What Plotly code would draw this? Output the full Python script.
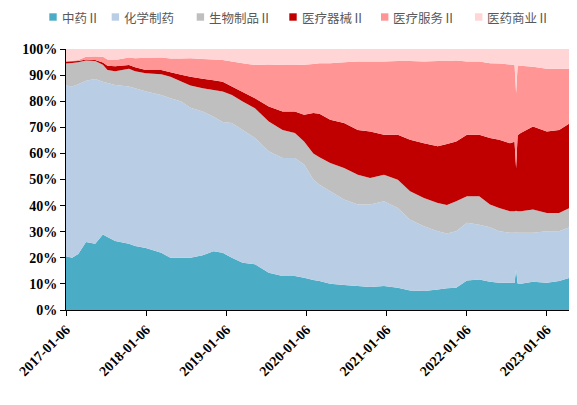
import plotly.graph_objects as go

dates = [
    "2017-01-06", "2017-02-03", "2017-03-03", "2017-04-07", "2017-05-19", "2017-06-23",
    "2017-07-14", "2017-08-18", "2017-10-20", "2017-11-17", "2018-01-05", "2018-03-16",
    "2018-04-27", "2018-06-15", "2018-07-27", "2018-09-21", "2018-11-09", "2018-12-21",
    "2019-02-01", "2019-03-22", "2019-05-17", "2019-07-19", "2019-09-20", "2019-11-15",
    "2019-12-27", "2020-02-07", "2020-03-06", "2020-04-24", "2020-06-26", "2020-08-28",
    "2020-10-23", "2020-12-25", "2021-02-26", "2021-04-23", "2021-06-25", "2021-08-27",
    "2021-10-08", "2021-11-19", "2022-01-07", "2022-03-04", "2022-04-22", "2022-06-03",
    "2022-07-22", "2022-08-12", "2022-08-19", "2022-08-26", "2022-09-09", "2022-11-04",
    "2023-01-06", "2023-03-03", "2023-04-21", "2023-05-19",
]

zhongyao = [20.6, 20.0, 21.5, 26.1, 25.4, 28.9, 28.0, 26.4, 25.4, 24.5, 23.8, 21.9,
            20.0, 20.0, 20.0, 21.0, 22.5, 21.9, 20.0, 18.1, 17.5, 14.3, 13.0, 13.0,
            12.4, 11.5, 11.1, 10.1, 9.6, 9.2, 8.8, 9.2, 8.5, 7.5, 7.3, 7.9,
            8.3, 8.5, 11.3, 11.7, 10.8, 10.4, 10.4, 10.3, 15.5, 10.2, 10.1, 10.8,
            10.4, 11.1, 12.4, 13.6]
huaxue = [65.4, 65.6, 65.0, 61.7, 63.1, 58.6, 59.0, 59.8, 60.2, 60.5, 59.9, 60.5,
          61.1, 59.9, 57.5, 55.1, 51.5, 50.1, 51.6, 50.9, 48.4, 46.5, 45.2, 45.2,
          43.3, 38.5, 36.9, 35.4, 32.7, 31.2, 31.6, 32.5, 30.6, 27.1, 24.8, 22.3,
          21.0, 21.7, 22.1, 21.0, 20.9, 19.8, 19.2, 19.3, 14.5, 19.4, 19.5, 18.8,
          19.8, 19.1, 19.3, 18.5]
shengwu = [8.4, 9.0, 8.4, 7.8, 6.9, 6.5, 5.0, 5.3, 6.8, 6.5, 7.0, 7.9,
           8.3, 7.6, 8.5, 8.9, 10.3, 11.7, 10.8, 10.9, 11.4, 11.4, 10.8, 9.6,
           8.9, 10.0, 10.5, 10.8, 12.1, 11.4, 10.2, 10.1, 10.8, 10.9, 10.8, 10.8,
           10.9, 11.5, 10.2, 10.9, 8.7, 8.9, 8.2, 8.2, 8.0, 8.2, 8.2, 8.9,
           7.0, 7.0, 7.4, 7.6]
qixie = [0.8, 0.7, 0.5, 0.4, 0.4, 0.8, 1.6, 1.9, 1.5, 1.5, 1.3, 1.7,
         1.7, 2.6, 3.4, 3.6, 3.7, 3.8, 3.2, 3.6, 3.8, 5.8, 7.1, 8.3,
         10.2, 15.5, 16.7, 16.6, 17.2, 17.2, 17.8, 15.3, 17.2, 19.7, 21.0, 21.7,
         23.4, 22.9, 23.5, 23.5, 25.5, 26.1, 26.1, 26.7, 16.4, 29.2, 30.0, 31.8,
         31.2, 31.8, 32.5, 32.5]
fuwu = [0.0, 0.2, 0.4, 1.0, 1.3, 2.2, 2.4, 2.4, 2.8, 3.5, 4.6, 4.7,
        5.3, 6.3, 7.1, 7.6, 8.0, 8.3, 9.6, 11.0, 12.8, 16.1, 17.8, 17.8,
        19.2, 18.8, 19.3, 21.6, 23.3, 26.2, 26.8, 28.1, 28.3, 30.2, 31.3, 32.7,
        31.8, 31.0, 28.1, 28.1, 28.6, 29.2, 30.2, 29.5, 28.7, 26.7, 25.8, 22.9,
        24.0, 23.4, 20.8, 20.2]
shangye = [4.8, 4.5, 4.2, 3.0, 2.9, 3.0, 4.0, 4.2, 3.3, 3.5, 3.4, 3.3,
           3.6, 3.6, 3.5, 3.8, 4.0, 4.2, 4.8, 5.5, 6.1, 5.9, 6.1, 6.1,
           6.0, 5.7, 5.5, 5.5, 5.1, 4.8, 4.8, 4.8, 4.6, 4.6, 4.8, 4.6,
           4.6, 4.4, 4.8, 4.8, 5.5, 5.6, 5.9, 6.0, 16.9, 6.3, 6.4, 6.8,
           7.6, 7.6, 7.6, 7.6]

names = ["中药Ⅱ", "化学制药", "生物制品Ⅱ", "医疗器械Ⅱ", "医疗服务Ⅱ", "医药商业Ⅱ"]
colors = ["#4BACC6", "#B9CDE5", "#BFBFBF", "#C00000", "#FF9595", "#FFD5D5"]
series = [zhongyao, huaxue, shengwu, qixie, fuwu, shangye]

tick_dates = ["2017-01-06", "2018-01-06", "2019-01-06", "2020-01-06",
              "2021-01-06", "2022-01-06", "2023-01-06"]
y_ticks = [0, 10, 20, 30, 40, 50, 60, 70, 80, 90, 100]
y_tick_text = ["0%", "10%", "20%", "30%", "40%", "50%", "60%", "70%", "80%", "90%", "100%"]

# --- layout geometry (page pixels; page body adds an 8px offset) ---
PLOT_L, PLOT_R, PLOT_T, PLOT_B = 66.0, 576.0, 49.0, 310.0
legend_sq_left = [49.3, 111.7, 196.7, 289.3, 381.0, 475.0]
SQ = 7.4
LEG_Y = 17.0

def px_to_paper_x(px):
    return (px - PLOT_L) / (PLOT_R - PLOT_L)

def px_to_paper_y(py):
    return (PLOT_B - py) / (PLOT_B - PLOT_T)

fig = go.Figure()
for name, color, vals in zip(names, colors, series):
    fig.add_trace(go.Scatter(
        x=dates, y=vals, name=name, mode="none",
        stackgroup="one", groupnorm="percent",
        fillcolor=color, line=dict(width=0),
        hoverinfo="skip", showlegend=False,
    ))

# legend made of small squares + labels (like the reference)
shapes = []
annotations = []
for name, color, left in zip(names, colors, legend_sq_left):
    shapes.append(dict(
        type="rect", xref="paper", yref="paper",
        x0=px_to_paper_x(left), x1=px_to_paper_x(left + SQ),
        y0=px_to_paper_y(LEG_Y + SQ / 2), y1=px_to_paper_y(LEG_Y - SQ / 2),
        fillcolor=color, line=dict(width=0),
    ))
    annotations.append(dict(
        text=name, xref="paper", yref="paper",
        x=px_to_paper_x(left + SQ + 4), y=px_to_paper_y(LEG_Y),
        xanchor="left", yanchor="middle", showarrow=False, borderpad=0,
        font=dict(family="Noto Sans CJK SC", size=12.5, color="#595959"),
    ))

tick_font = dict(family="Liberation Serif", size=14, color="#000000", weight="bold")

W, H = 569, 397
fig.update_layout(
    width=W, height=H,
    margin=dict(l=PLOT_L - 8, r=W - (PLOT_R - 8), t=PLOT_T - 8,
                b=H - (PLOT_B - 8), autoexpand=False),
    paper_bgcolor="white", plot_bgcolor="white",
    showlegend=False,
    shapes=shapes, annotations=annotations,
    xaxis=dict(
        type="date", range=["2017-01-06", "2023-05-19"],
        tickvals=tick_dates, ticktext=tick_dates, tickangle=-45,
        showgrid=False, zeroline=False,
        showline=True, linecolor="#000000", linewidth=1,
        ticks="outside", ticklen=5, tickcolor="#000000",
        tickfont=tick_font,
    ),
    yaxis=dict(
        range=[0, 100], tickvals=y_ticks, ticktext=y_tick_text,
        showgrid=False, zeroline=False,
        showline=True, linecolor="#000000", linewidth=1,
        ticks="outside", ticklen=5, tickcolor="#000000",
        tickfont=tick_font,
    ),
)

fig.write_html("out.html")
